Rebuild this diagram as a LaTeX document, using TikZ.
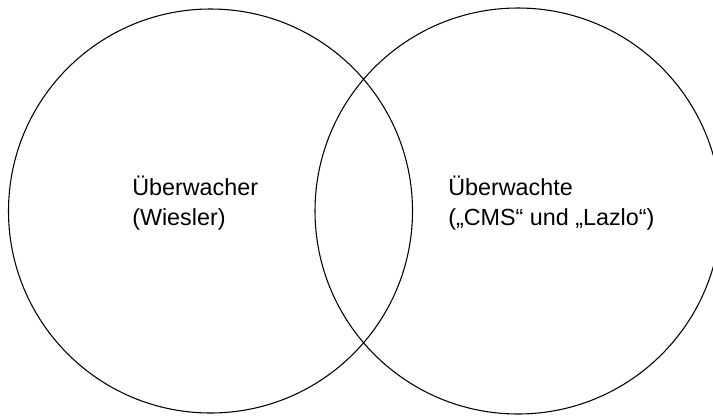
\documentclass[tikz,border=0pt]{standalone}
\usepackage{fontspec}
\setmainfont{Liberation Sans}
\usetikzlibrary{positioning}

\begin{document}
\begin{tikzpicture}[x=0.75pt,y=-0.75pt]
\tikzstyle{menge}=[circle,draw,line width=0.8pt,inner sep=0pt]
\tikzstyle{beschr}=[font=\fontsize{17.5}{22}\selectfont,align=left,anchor=base west,inner sep=0pt]
\useasboundingbox (0,0) rectangle (713,415);
\node (wer) [menge, minimum size=303pt] at (210.5,211) {};
\node (wen) [menge, minimum size=304.5pt] at (518,211) {};
\node (werText) [beschr] at (132,225) {Überwacher\\(Wiesler)};
\node (wenText) [beschr] at (448,225) {Überwachte\\(„CMS“ und „Lazlo“)};
\end{tikzpicture}
\end{document}
